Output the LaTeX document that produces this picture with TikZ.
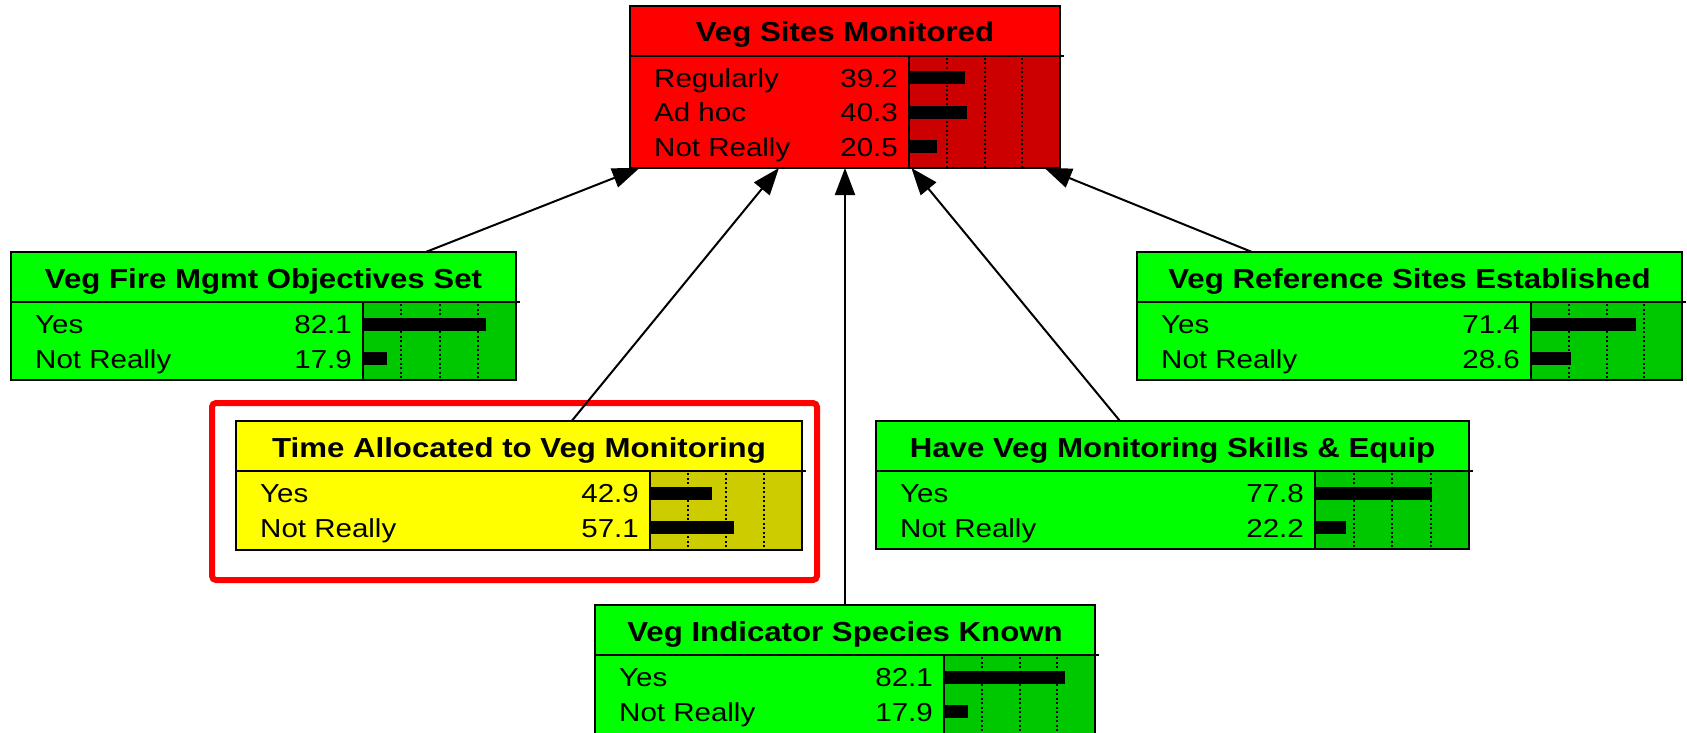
\documentclass[tikz,border=0pt]{standalone}
\usepackage{fontspec}
\setmainfont{Liberation Sans}[FakeStretch=1.135]
\usetikzlibrary{arrows.meta}

\definecolor{redmain}{HTML}{FF0000}
\definecolor{redbar}{HTML}{CC0000}
\definecolor{greenmain}{HTML}{00FF00}
\definecolor{greenbar}{HTML}{00C800}
\definecolor{yellowmain}{HTML}{FFFF00}
\definecolor{yellowbar}{HTML}{CCCC00}

\tikzset{
  boxframe/.style={draw=black, line width=2pt, rectangle, inner sep=0pt, outer sep=0pt},
  boxline/.style={draw=black, line width=2pt},
  gridline/.style={draw=black, line width=2pt, dash pattern=on 2pt off 2.5pt},
  titletext/.style={inner sep=0pt, font=\fontsize{27.5}{32}\selectfont\bfseries},
  rowtext/.style={inner sep=0pt, font=\fontsize{26}{31}\selectfont},
  link/.style={draw=black, line width=2pt, -{Triangle[length=27pt,width=20pt]}},
  focusframe/.style={draw=redmain, line width=6pt, rounded corners=4pt, inner sep=0pt},
}

% #1 name, #2 left, #3 top, #4 right, #5 divider x, #6 bottom, #7 colour set, #8 title
\newcommand\netbox[8]{%
  \fill[#7main] (#2,#3) rectangle (#4,#6);
  \fill[#7bar] (#5,{#3+50}) rectangle (#4,#6);
  \foreach \k in {1,2,3}
    \draw[gridline] ({#5+\k*(#4-#5)/4},{#3+52}) -- ({#5+\k*(#4-#5)/4},#6);
  \node[boxframe, minimum width={(#4-#2)*1pt}, minimum height={(#6-#3)*1pt}] (#1) at ({(#2+#4)/2},{(#3+#6)/2}) {};
  \draw[boxline] (#2,{#3+50}) -- ({#4+4},{#3+50});
  \draw[boxline] (#5,{#3+50}) -- (#5,#6);
  \node[titletext, anchor=base] (#1-title) at ({(#2+#4)/2},{#3+36}) {#8};
  \def\boxL{#2}\def\boxD{#5}\def\boxR{#4}\def\boxT{#3}%
}

% #1 box name, #2 row number, #3 state, #4 belief (percent)
\newcommand\netrow[4]{%
  \pgfmathsetmacro\rowY{\boxT+50+31.5+34.5*(#2-1)}%
  \node[rowtext, anchor=base west] (#1-s#2) at ({\boxL+24},\rowY) {#3};
  \node[rowtext, anchor=base east] (#1-p#2) at ({\boxD-11},\rowY) {#4};
  \fill ({\boxD+1},{\rowY-16}) rectangle ({\boxD+#4*(\boxR-\boxD)/100-3},{\rowY-3});
}

\begin{document}
\begin{tikzpicture}[x=1pt,y=-1pt]
\useasboundingbox (0,0) rectangle (1687,733);

\node[focusframe, minimum width=605pt, minimum height=177pt] (focus) at (514.5,491.5) {};

\netbox{vsm}{630}{6}{1060}{909}{168}{red}{Veg Sites Monitored}
\netrow{vsm}{1}{Regularly}{39.2}
\netrow{vsm}{2}{Ad hoc}{40.3}
\netrow{vsm}{3}{Not Really}{20.5}

\netbox{fire}{11}{252}{516}{363}{380}{green}{Veg Fire Mgmt Objectives Set}
\netrow{fire}{1}{Yes}{82.1}
\netrow{fire}{2}{Not Really}{17.9}

\netbox{ref}{1137}{252}{1682}{1531}{380}{green}{Veg Reference Sites Established}
\netrow{ref}{1}{Yes}{71.4}
\netrow{ref}{2}{Not Really}{28.6}

\netbox{time}{236}{421}{802}{650}{550}{yellow}{Time Allocated to Veg Monitoring}
\netrow{time}{1}{Yes}{42.9}
\netrow{time}{2}{Not Really}{57.1}

\netbox{skill}{876}{421}{1469}{1315}{549}{green}{Have Veg Monitoring Skills \& Equip}
\netrow{skill}{1}{Yes}{77.8}
\netrow{skill}{2}{Not Really}{22.2}

\netbox{ind}{595}{605}{1095}{944}{736}{green}{Veg Indicator Species Known}
\netrow{ind}{1}{Yes}{82.1}
\netrow{ind}{2}{Not Really}{17.9}

\draw[link] (fire) -- (vsm);
\draw[link] (time) -- (vsm);
\draw[link] (ind) -- (vsm);
\draw[link] (skill) -- (vsm);
\draw[link] (ref) -- (vsm);
\end{tikzpicture}
\end{document}
